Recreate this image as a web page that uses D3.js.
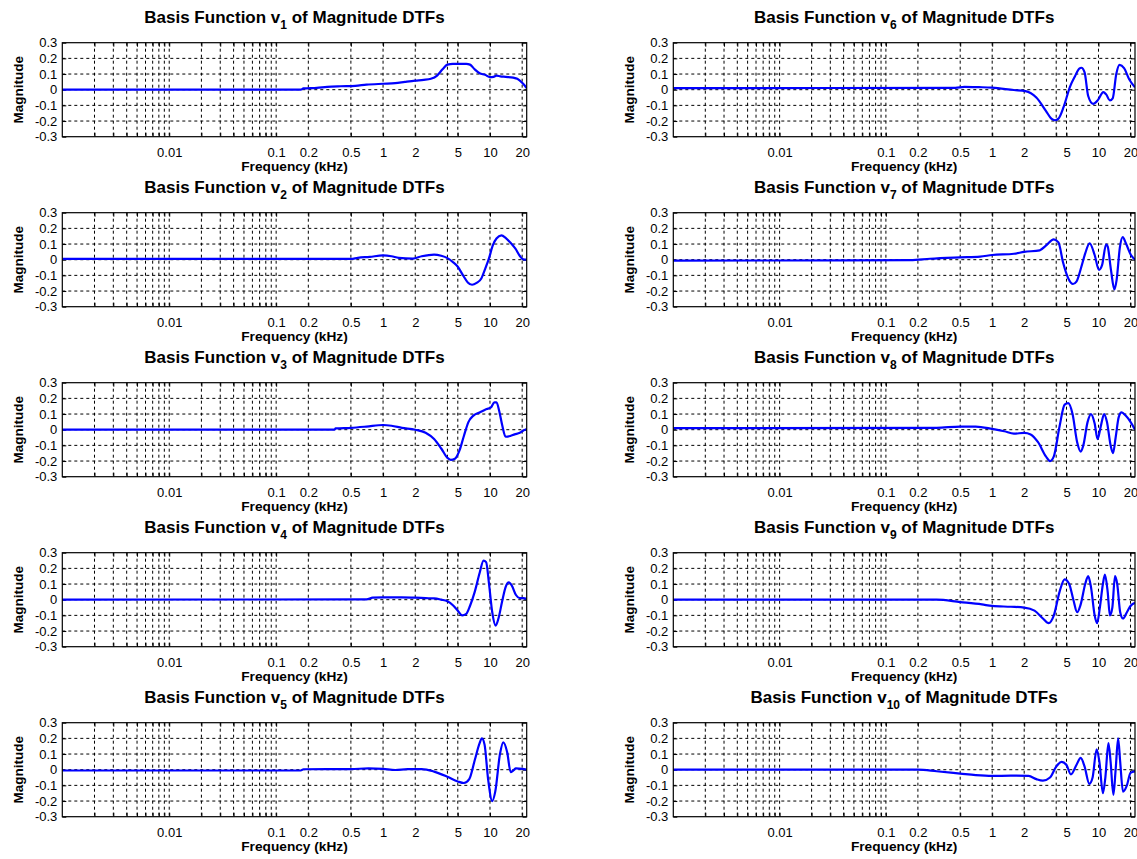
<!DOCTYPE html>
<html><head><meta charset="utf-8">
<script src="https://cdn.jsdelivr.net/npm/d3@7"></script>
<style>
body{margin:0;background:#fff}
svg text{font-family:"Liberation Sans",Arial,Helvetica,sans-serif;fill:#000}
</style>
</head><body>
<svg id="c" width="1137" height="859"></svg>
<script>
// ---------- data (frequency in kHz, magnitude) ----------
const xDomain = [0.001, 22.05];
const yDomain = [-0.3, 0.3];
const yTicks = [-0.3, -0.2, -0.1, 0, 0.1, 0.2, 0.3];
const yGrid = [-0.2, -0.1, 0, 0.1, 0.2];
const xLabelTicks = [0.01, 0.1, 0.2, 0.5, 1, 2, 5, 10, 20];
const xGridTicks = [0.002,0.003,0.004,0.005,0.006,0.007,0.008,0.009,
  0.01,0.02,0.03,0.04,0.05,0.06,0.07,0.08,0.09,
  0.1,0.2,0.5,1,2,4,5,10,20];
const seriesNames = ["1","2","3","4","5","6","7","8","9","10"];

const v1 = [[0.001,0],[0.17,0],[0.18,0.008],[0.24,0.012],[0.3,0.018],[0.4,0.022],[0.55,0.025],[0.7,0.032],[1.0,0.038],[1.3,0.042],[1.6,0.05],[2.0,0.058],[2.4,0.063],[2.8,0.07],[3.2,0.09],[3.6,0.13],[4.0,0.16],[4.5,0.165],[5.0,0.165],[6.0,0.165],[6.5,0.16],[7.2,0.13],[8.0,0.105],[9.0,0.095],[10.0,0.08],[10.8,0.082],[11.5,0.09],[12.5,0.085],[14,0.082],[16.5,0.077],[18,0.07],[20,0.045],[21.2,0.025],[22.05,0.01]];
const v2 = [[0.001,0.005],[0.5,0.005],[0.58,0.012],[0.75,0.018],[1.0,0.027],[1.2,0.022],[1.4,0.012],[1.9,0.007],[2.3,0.022],[3.0,0.033],[3.5,0.025],[4.0,0.01],[4.5,-0.015],[5.0,-0.045],[5.6,-0.1],[6.2,-0.145],[6.8,-0.16],[7.5,-0.148],[8.3,-0.12],[9.0,-0.06],[9.8,0.01],[10.6,0.09],[11.5,0.135],[12.8,0.155],[14,0.14],[15.5,0.11],[17.3,0.07],[19.2,0.02],[20.5,0.002],[22.05,0]];
const v3 = [[0.001,0],[0.35,0],[0.36,0.008],[0.5,0.012],[0.7,0.02],[1.0,0.03],[1.2,0.025],[1.5,0.012],[2.0,0],[2.5,-0.02],[3.0,-0.06],[3.5,-0.12],[4.0,-0.18],[4.3,-0.192],[4.7,-0.185],[5.2,-0.13],[5.7,-0.04],[6.3,0.05],[7.0,0.09],[8.0,0.11],[9.0,0.128],[10.2,0.142],[11.0,0.175],[11.5,0.175],[12.2,0.12],[13.0,0.03],[14.0,-0.045],[15.5,-0.04],[17,-0.03],[19,-0.02],[20.5,-0.005],[22.05,0.005]];
const v4 = [[0.001,0],[0.7,0.002],[0.8,0.013],[1.0,0.015],[1.5,0.015],[2.0,0.013],[2.5,0.01],[3.0,0.008],[3.5,0],[4.0,-0.01],[4.5,-0.035],[5.0,-0.07],[5.5,-0.1],[6.0,-0.09],[6.5,-0.04],[7.2,0.05],[8.0,0.17],[8.7,0.25],[9.2,0.24],[9.8,0.1],[10.5,-0.08],[11.3,-0.165],[12,-0.12],[13,-0.01],[14,0.08],[15,0.11],[16,0.09],[17.5,0.03],[19,0.01],[20.5,0.01],[22.05,0.005]];
const v5 = [[0.001,-0.005],[0.17,-0.005],[0.18,0.003],[0.5,0.004],[0.73,0.008],[1.0,0.005],[1.3,-0.002],[1.7,0.004],[2.3,0.004],[3.0,-0.012],[4.0,-0.045],[5.0,-0.075],[5.7,-0.085],[6.4,-0.06],[7.2,0.06],[8.0,0.17],[8.4,0.2],[8.9,0.16],[9.6,-0.06],[10.5,-0.2],[11.2,-0.14],[12.4,0.1],[13.3,0.175],[14.5,0.11],[15.6,-0.015],[16.5,-0.005],[17.5,0.008],[20,0.005],[22.05,0]];
const v6 = [[0.001,0.01],[0.45,0.012],[0.55,0.018],[0.75,0.016],[1.0,0.013],[1.6,-0.002],[2.05,-0.009],[2.6,-0.05],[3.2,-0.135],[3.6,-0.185],[3.9,-0.195],[4.2,-0.185],[4.7,-0.11],[5.4,0.02],[6.0,0.085],[6.6,0.135],[6.9,0.14],[7.4,0.11],[8.0,-0.04],[8.9,-0.09],[9.9,-0.065],[11.1,-0.015],[11.8,-0.03],[12.8,-0.068],[13.6,-0.055],[14.7,0.1],[15.8,0.158],[17.4,0.138],[19.5,0.065],[22.05,0.015]];
const v7 = [[0.001,-0.006],[0.17,-0.003],[0.26,0.006],[0.5,0.015],[0.77,0.02],[1.0,0.03],[1.6,0.038],[2.0,0.05],[2.8,0.06],[3.2,0.09],[3.8,0.13],[4.2,0.11],[4.65,-0.02],[5.2,-0.12],[5.75,-0.155],[6.2,-0.14],[6.9,-0.045],[7.5,0.04],[8.25,0.105],[9.2,0.03],[10.1,-0.065],[10.8,-0.035],[11.8,0.098],[12.2,0.085],[13.1,-0.065],[14.1,-0.19],[14.8,-0.13],[15.9,0.08],[16.9,0.145],[18.1,0.105],[20.2,0.03],[22.05,0]];
const v8 = [[0.001,0.01],[0.3,0.012],[0.5,0.02],[0.7,0.02],[1.0,0.005],[1.3,-0.01],[1.6,-0.025],[2.0,-0.02],[2.3,-0.03],[2.7,-0.08],[3.2,-0.17],[3.5,-0.2],[3.8,-0.17],[4.3,0.02],[4.8,0.16],[5.2,0.17],[5.7,0.1],[6.3,-0.08],[6.8,-0.14],[7.2,-0.1],[7.9,0.05],[8.5,0.1],[9.2,0.04],[9.8,-0.06],[10.5,0.02],[11.3,0.1],[12,0.05],[13,-0.1],[13.7,-0.15],[14.5,-0.05],[15.5,0.08],[16.5,0.11],[18,0.09],[20,0.05],[22.05,0]];
const v9 = [[0.001,0],[0.3,0],[0.5,-0.015],[0.8,-0.03],[1.0,-0.04],[1.5,-0.045],[2.0,-0.05],[2.5,-0.07],[3.0,-0.12],[3.4,-0.15],[3.8,-0.1],[4.3,0.05],[4.8,0.13],[5.3,0.1],[5.8,0],[6.3,-0.08],[6.8,-0.03],[7.5,0.1],[8.0,0.15],[8.5,0.08],[9.2,-0.1],[9.7,-0.15],[10.3,-0.05],[11,0.1],[11.5,0.16],[12.2,0.05],[12.8,-0.1],[13.5,-0.05],[14.3,0.15],[15,0.1],[16,-0.08],[17,-0.12],[18.5,-0.08],[20,-0.04],[22.05,-0.02]];
const v10 = [[0.001,0],[0.2,0],[0.3,-0.01],[0.5,-0.025],[0.7,-0.035],[1.0,-0.04],[1.5,-0.038],[2.2,-0.04],[2.6,-0.06],[3.0,-0.07],[3.5,-0.05],[4.0,0.02],[4.5,0.05],[5.0,0.03],[5.5,-0.03],[6.2,0.03],[6.8,0.075],[7.4,0.02],[8.2,-0.09],[8.8,-0.05],[9.6,0.13],[10.2,0.05],[11,-0.15],[11.6,-0.05],[12.4,0.17],[13,0.05],[13.8,-0.16],[14.5,0],[15.3,0.2],[16,0.05],[17,-0.14],[18.5,-0.1],[20,-0.02],[22.05,-0.01]];

const series = [v1,v2,v3,v4,v5,v6,v7,v8,v9,v10];

// ---------- layout ----------
const svg = d3.select("#c");
const cols = [{x0:62.3, x1:526.7},{x0:673.3, x1:1135}];
const top0 = 42.7, rowPitch = 170, plotH = 94;
const tickLen = 4;

series.forEach((data, i) => {
  const col = Math.floor(i/5), row = i % 5;
  const c = cols[col];
  const t = top0 + row*rowPitch, b = t + plotH;
  const x = d3.scaleLog().domain(xDomain).range([c.x0, c.x1]);
  const y = d3.scaleLinear().domain(yDomain).range([b, t]);
  const g = svg.append("g");

  // grid
  g.append("g").selectAll("line").data(xGridTicks).join("line")
    .attr("x1", d=>x(d)).attr("x2", d=>x(d)).attr("y1", t).attr("y2", b)
    .attr("stroke","#000").attr("stroke-width",1).attr("stroke-dasharray","3,3");
  g.append("g").selectAll("line").data(yGrid).join("line")
    .attr("x1", c.x0).attr("x2", c.x1).attr("y1", d=>y(d)).attr("y2", d=>y(d))
    .attr("stroke","#000").attr("stroke-width",1).attr("stroke-dasharray","3,3");

  // axes (inward ticks)
  const fmtX = d => xLabelTicks.includes(d) ? String(d) : "";
  const ax = g.append("g").attr("transform",`translate(0,${b})`)
    .call(d3.axisBottom(x).tickValues(xGridTicks).tickFormat(fmtX).tickSizeInner(-tickLen).tickSizeOuter(0).tickPadding(11));
  const axT = g.append("g").attr("transform",`translate(0,${t})`)
    .call(d3.axisTop(x).tickValues(xGridTicks).tickFormat("").tickSizeInner(-tickLen).tickSizeOuter(0));
  const ay = g.append("g").attr("transform",`translate(${c.x0},0)`)
    .call(d3.axisLeft(y).tickValues(yTicks).tickFormat(d=>String(d)).tickSizeInner(-tickLen).tickSizeOuter(0).tickPadding(5));
  const ayR = g.append("g").attr("transform",`translate(${c.x1},0)`)
    .call(d3.axisRight(y).tickValues(yTicks).tickFormat("").tickSizeInner(-tickLen).tickSizeOuter(0));
  [ax,axT,ay,ayR].forEach(a=>{
    a.select(".domain").remove();
    a.selectAll("line").attr("stroke","#000");
    a.selectAll("text").attr("font-size",13).attr("font-family","Liberation Sans, Arial, sans-serif").attr("fill","#000");
  });

  // clip + line
  const clipId = "clip"+i;
  svg.append("clipPath").attr("id",clipId).append("rect")
    .attr("x",c.x0).attr("y",t).attr("width",c.x1-c.x0).attr("height",plotH);
  const line = d3.line().x(d=>x(d[0])).y(d=>y(d[1])).curve(d3.curveMonotoneX);
  g.append("path").datum(data).attr("d",line).attr("clip-path",`url(#${clipId})`)
    .attr("fill","none").attr("stroke","#0000ff").attr("stroke-width",2.2).attr("stroke-linejoin","round");

  // box
  g.append("rect").attr("x",c.x0).attr("y",t).attr("width",c.x1-c.x0).attr("height",plotH)
    .attr("fill","none").attr("stroke","#000").attr("stroke-width",1.2);

  // title
  const title = g.append("text").attr("x",(c.x0+c.x1)/2).attr("y",t-20)
    .attr("text-anchor","middle").attr("font-weight","bold").attr("font-size",17);
  title.append("tspan").text("Basis Function v");
  title.append("tspan").attr("font-size",12).attr("dy",6).text(seriesNames[i]);
  title.append("tspan").attr("dy",-6).text(" of Magnitude DTFs");

  // axis labels
  g.append("text").attr("x",(c.x0+c.x1)/2).attr("y",b+34)
    .attr("text-anchor","middle").attr("font-weight","bold").attr("font-size",13.7)
    .text("Frequency (kHz)");
  g.append("text").attr("transform",`translate(${c.x0-44},${(t+b)/2}) rotate(-90)`)
    .attr("text-anchor","middle").attr("dy","0.35em").attr("font-weight","bold").attr("font-size",13.5)
    .text("Magnitude");
});
</script>
</body></html>
